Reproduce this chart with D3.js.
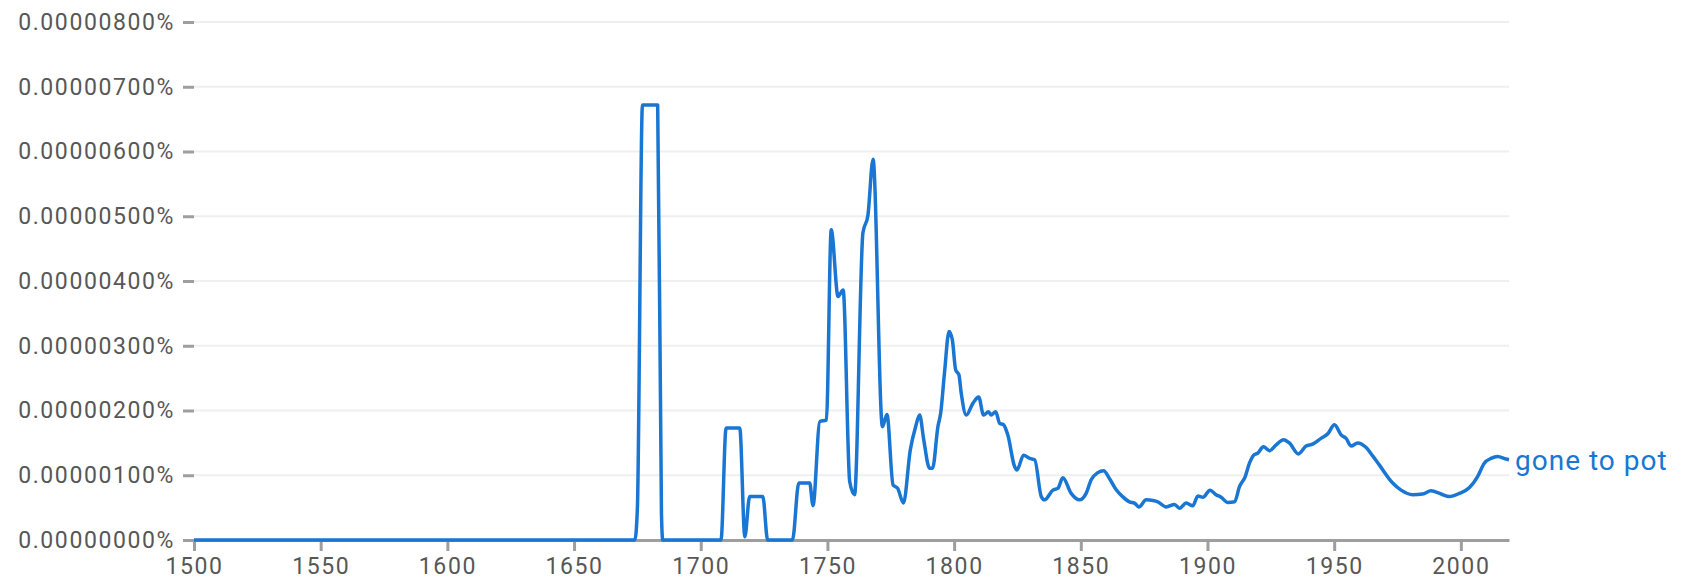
<html>
<head>
	<title>gone to pot</title>
	<style type="text/css">
		body{
			margin: 0;
			background-color: #fff;
		}
		.axis text{
			fill: #575757;
			font-family: Roboto, sans-serif;
			font-size: 23px;
			letter-spacing: 1.6px;
		}
		.axis line, .axis path{
			stroke: #9e9e9e;
			stroke-width: 3px;
		}
		.grid line{
			stroke: #efefef;
			stroke-width: 2px;
		}
		.series{
			fill: none;
			stroke: #1976d2;
			stroke-width: 3.5px;
			stroke-linejoin: round;
		}
		.seriesLabel{
			fill: #1976d2;
			font-family: Roboto, sans-serif;
			font-size: 28px;
			letter-spacing: 1px;
		}
	</style>
	<script type="text/javascript" src="https://d3js.org/d3.v7.min.js"></script>
</head>
<body>
<div id="chart"></div>
<script type="text/javascript">
	// frequency in percent
	var years = [1500, 1674, 1675, 1677, 1683, 1684.5, 1685, 1708, 1710, 1715.4, 1717.4, 1719.3, 1724.5, 1726.4,
		1736.2, 1738.7, 1743, 1744.3, 1747, 1749.6, 1751.5, 1754.2, 1756.2, 1758.8, 1760.7, 1764, 1766, 1768,
		1771.7, 1773.5, 1775.9, 1777.7, 1780, 1782.7, 1784.8, 1786.4, 1788, 1790.3, 1791.5, 1793.6, 1794.7,
		1796.2, 1798, 1799.3, 1800.6, 1801.9, 1802.8, 1804.8, 1807.4, 1809.7, 1811.6, 1813.6, 1814.6, 1816.4,
		1818, 1819.5, 1821.2, 1823.9, 1824.8, 1827.4, 1829.8, 1831.8, 1834.4, 1835.7, 1839, 1841, 1842.9,
		1846.2, 1849.5, 1852.1, 1854.1, 1856.7, 1859, 1861.3, 1863.9, 1866.5, 1869.2, 1871.2, 1872.9, 1875.8,
		1878.5, 1880.4, 1883.7, 1887, 1889, 1891.6, 1894.2, 1896.2, 1898.2, 1901, 1903.4, 1905.4, 1908, 1910.7,
		1912.6, 1914.9, 1916.6, 1918.2, 1919.8, 1922.1, 1924.5, 1927.1, 1930, 1932.3, 1935.9, 1938.9, 1941.5,
		1944.8, 1947.5, 1950.1, 1952.8, 1954.7, 1956.7, 1959.3, 1962.3, 1965.2, 1967.8, 1973.1, 1976.4, 1981,
		1984.9, 1988.2, 1992.2, 1995.5, 1999.4, 2003.4, 2006.6, 2009.3, 2011.9, 2014.5, 2017.8, 2019];
	var freq = [0, 0, 0.5e-6, 6.72e-6, 6.72e-6, 0.4e-6, 0, 0, 1.73e-6, 1.73e-6, 0.05e-6, 0.67e-6, 0.67e-6, 0,
		0, 0.88e-6, 0.88e-6, 0.53e-6, 1.83e-6, 1.85e-6, 4.79e-6, 3.76e-6, 3.86e-6, 0.9e-6, 0.7e-6, 4.74e-6, 5.02e-6, 5.88e-6,
		1.75e-6, 1.94e-6, 0.85e-6, 0.8e-6, 0.57e-6, 1.39e-6, 1.75e-6, 1.93e-6, 1.55e-6, 1.11e-6, 1.11e-6, 1.75e-6, 1.96e-6,
		2.58e-6, 3.22e-6, 3.09e-6, 2.63e-6, 2.55e-6, 2.27e-6, 1.93e-6, 2.11e-6, 2.21e-6, 1.93e-6, 1.98e-6, 1.93e-6, 1.98e-6,
		1.8e-6, 1.78e-6, 1.62e-6, 1.13e-6, 1.08e-6, 1.31e-6, 1.26e-6, 1.24e-6, 0.67e-6, 0.62e-6, 0.77e-6, 0.8e-6, 0.96e-6,
		0.72e-6, 0.62e-6, 0.72e-6, 0.93e-6, 1.04e-6, 1.07e-6, 0.95e-6, 0.78e-6, 0.67e-6, 0.59e-6, 0.57e-6, 0.51e-6, 0.62e-6,
		0.61e-6, 0.59e-6, 0.51e-6, 0.55e-6, 0.49e-6, 0.57e-6, 0.53e-6, 0.68e-6, 0.66e-6, 0.77e-6, 0.7e-6, 0.66e-6, 0.58e-6, 0.59e-6,
		0.82e-6, 0.98e-6, 1.19e-6, 1.31e-6, 1.34e-6, 1.44e-6, 1.38e-6, 1.47e-6, 1.55e-6, 1.5e-6, 1.33e-6, 1.45e-6, 1.48e-6,
		1.57e-6, 1.64e-6, 1.78e-6, 1.62e-6, 1.57e-6, 1.45e-6, 1.5e-6, 1.44e-6, 1.3e-6, 1.16e-6, 0.88e-6, 0.77e-6, 0.7e-6,
		0.71e-6, 0.76e-6, 0.71e-6, 0.67e-6, 0.72e-6, 0.81e-6, 0.98e-6, 1.19e-6, 1.26e-6, 1.29e-6, 1.25e-6, 1.24e-6];
	var seriesName = 'gone to pot';
	var xTicks = [1500, 1550, 1600, 1650, 1700, 1750, 1800, 1850, 1900, 1950, 2000];
	var yTicks = [0, 1e-6, 2e-6, 3e-6, 4e-6, 5e-6, 6e-6, 7e-6, 8e-6];

	var width = 1684, height = 588;
	var margin = {top: 22, right: 175, bottom: 48, left: 194};

	var svg = d3.select('#chart')
		.append('svg')
		.attr('width', width)
		.attr('height', height);

	var xScale = d3.scaleLinear()
		.domain([1500, 2019])
		.range([margin.left, width - margin.right]);
	var yScale = d3.scaleLinear()
		.domain([0, 8e-6])
		.range([height - margin.bottom, margin.top]);

	var fmt = d3.format('.8f');

	// horizontal grid lines
	svg.append('g')
		.attr('class', 'grid')
		.selectAll('line')
		.data(yTicks.slice(1))
		.enter()
		.append('line')
		.attr('x1', xScale(1500))
		.attr('x2', xScale(2019))
		.attr('y1', function(d){ return yScale(d); })
		.attr('y2', function(d){ return yScale(d); });

	var yAxis = d3.axisLeft(yScale)
		.tickValues(yTicks)
		.tickSize(11)
		.tickPadding(8)
		.tickFormat(function(d){ return fmt(d) + '%'; });
	svg.append('g')
		.attr('class', 'axis')
		.attr('transform', 'translate(' + margin.left + ',0)')
		.call(yAxis)
		.call(function(g){ g.select('.domain').remove(); });

	var xAxis = d3.axisBottom(xScale)
		.tickValues(xTicks)
		.tickSize(11)
		.tickSizeOuter(0)
		.tickPadding(7)
		.tickFormat(d3.format('d'));
	svg.append('g')
		.attr('class', 'axis')
		.attr('transform', 'translate(0,' + (height - margin.bottom) + ')')
		.call(xAxis);

	var points = years.map(function(y, i){ return [y, freq[i]]; });

	var line = d3.line()
		.x(function(d){ return xScale(d[0]); })
		.y(function(d){ return yScale(d[1]); })
		.curve(d3.curveMonotoneX);

	svg.append('path')
		.datum(points)
		.attr('class', 'series')
		.attr('d', line);

	var last = points[points.length - 1];
	svg.append('text')
		.attr('class', 'seriesLabel')
		.attr('x', xScale(last[0]) + 6)
		.attr('y', yScale(last[1]))
		.attr('dy', '0.35em')
		.text(seriesName);
</script>
</body>
</html>
